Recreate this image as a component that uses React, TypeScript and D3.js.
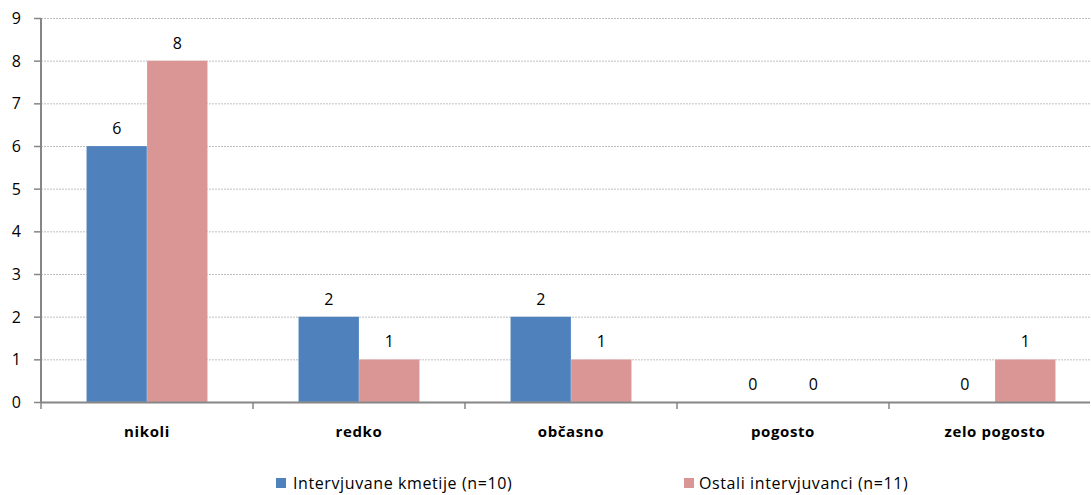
import React from "react";
import * as d3 from "d3";

const categories = ["nikoli", "redko", "občasno", "pogosto", "zelo pogosto"];
const seriesNames = ["Intervjuvane kmetije (n=10)", "Ostali intervjuvanci (n=11)"];
const kmetije = [6, 2, 2, 0, 0];
const ostali = [8, 1, 1, 0, 1];
const yTicks = [0, 1, 2, 3, 4, 5, 6, 7, 8, 9];
const colors = ["#4F81BD", "#D99694"];

const W = 1091;
const H = 495;
const FONT = "'Open Sans', Lato, sans-serif";

export default function App() {
  const left = 41;
  const catW = 212;
  const x = d3.scaleBand<string>().domain(categories).range([left, left + catW * categories.length]).paddingInner(0).paddingOuter(0);
  const y = d3.scaleLinear().domain([0, 9]).range([402, 18]);
  const barW = catW / 3.5;
  const series = [kmetije, ostali];
  const legendPos = [[276, 293], [684, 699]];

  return (
    <svg width={W} height={H} style={{ position: "absolute", left: 0, top: 0, background: "#fff" }} fontFamily={FONT}>
      <defs>
        <clipPath id="plot">
          <rect x={0} y={0} width={W - 1} height={H} />
        </clipPath>
      </defs>
      <g clipPath="url(#plot)">
        {yTicks.filter((t) => t > 0).map((t) => (
          <line key={t} x1={left} x2={W} y1={y(t) + 0.5} y2={y(t) + 0.5} stroke="#BFBFBF" strokeWidth={1} strokeDasharray="2,1" />
        ))}
        {categories.map((c, i) =>
          series.map((s, k) => {
            const cx = (x(c) as number) + catW / 2;
            const bx = cx - barW + k * barW;
            const v = s[i];
            return (
              <g key={c + k}>
                {v > 0 && (
                  <rect x={bx} y={y(v)} width={barW} height={y(0) - y(v)} fill={colors[k]} stroke="#fff" strokeOpacity={0.4} strokeWidth={0.5} />
                )}
                <text x={bx + barW / 2} y={y(v) - 12} textAnchor="middle" fontSize={16} fill="#000">{v}</text>
              </g>
            );
          })
        )}
        <line x1={left} x2={W} y1={y(0) + 0.5} y2={y(0) + 0.5} stroke="#868686" strokeWidth={2} />
        {d3.range(categories.length + 1).map((i) => (
          <line key={i} x1={left + i * catW} x2={left + i * catW} y1={y(0)} y2={y(0) + 7} stroke="#868686" strokeWidth={1.5} />
        ))}
      </g>
      <line x1={left} x2={left} y1={y(9)} y2={y(0) + 1} stroke="#868686" strokeWidth={2} />
      {yTicks.map((t) => (
        <g key={t}>
          <line x1={left - 7} x2={left} y1={y(t) + 0.5} y2={y(t) + 0.5} stroke="#868686" strokeWidth={1.5} />
          <text x={21} y={y(t) + 6} textAnchor="end" fontSize={16} fill="#000">{t}</text>
        </g>
      ))}
      {categories.map((c) => (
        <text key={c} x={(x(c) as number) + catW / 2} y={437} textAnchor="middle" fontSize={15} fontWeight="bold" letterSpacing={0.6} fill="#000">{c}</text>
      ))}
      {seriesNames.map((n, k) => (
        <g key={n}>
          <rect x={legendPos[k][0]} y={478} width={10} height={10} fill={colors[k]} />
          <text x={legendPos[k][1]} y={489} fontSize={16} letterSpacing={0.6} fill="#000">{n}</text>
        </g>
      ))}
    </svg>
  );
}
